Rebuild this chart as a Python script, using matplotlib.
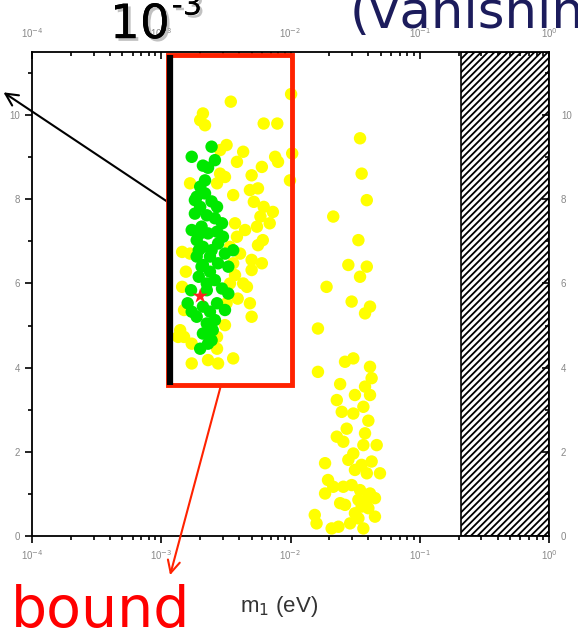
import matplotlib.pyplot as plt
import numpy as np
from matplotlib.patches import Rectangle
import matplotlib.patheffects as pe

# lightest neutrino mass m1 (in units of 1e-3 eV) and vertical quantity
green_m1 = [2.45, 1.72, 2.1, 2.6, 2.3, 2.0, 1.88, 2.18, 2.45, 2.0, 2.7, 1.82, 2.25, 2.6,
            2.95, 1.72, 2.05, 2.3, 2.7, 3.0, 1.88, 2.1, 2.45, 2.75, 3.11, 3.6, 3.3, 1.88,
            2.1, 2.38, 2.75, 1.95, 2.25, 2.6, 2.95, 1.7, 1.6, 2.1, 2.38, 2.7, 3.3, 3.11,
            1.88, 2.25, 2.6, 1.72, 2.1, 2.45, 2.0, 2.3, 2.5, 2.0, 1.95, 2.05, 2.38, 2.25,
            1.82, 2.18]
green_y = [9.25, 9.01, 8.8, 8.93, 8.75, 8.3, 8.06, 8.14, 7.95, 7.82, 7.82, 7.66, 7.62, 7.55,
           7.43, 7.27, 7.35, 7.19, 7.23, 7.11, 7.03, 6.87, 6.79, 6.95, 6.71, 6.79, 6.4, 6.64,
           6.44, 6.28, 6.48, 6.16, 6.0, 6.08, 5.88, 5.84, 5.53, 5.45, 5.33, 5.53, 5.76, 5.37,
           5.21, 5.05, 5.13, 5.33, 4.81, 4.65, 4.45, 4.57, 4.89, 7.19, 6.79, 6.4, 6.64, 5.84,
           7.98, 8.45]

yellow_m1 = [3.45, 2.1, 2.0, 2.18, 10.1, 6.2, 7.9, 3.2, 2.85, 4.3, 3.85, 7.6, 8.0, 10.3,
             6.0, 5.0, 9.9, 3.11, 2.7, 2.85, 1.67, 4.85, 5.6, 3.6, 5.2, 6.2, 7.3, 6.9,
             5.85, 5.5, 3.72, 4.45, 3.85, 6.1, 5.6, 3.4, 4.07, 1.45, 1.67, 5.0, 6.0, 5.0,
             3.6, 1.55, 3.72, 4.3, 4.6, 1.45, 3.9, 4.85, 1.5, 5.0, 1.4, 1.35, 3.11, 1.72,
             2.7, 1.72, 2.3, 2.75, 3.6, 2.7, 3.4, 3.2, 1.5,
             # normal-ordering branch around 2-5e-2 eV
             34.5, 35.5, 38.9, 21.4, 33.5, 28.0, 38.9, 34.5, 19.0, 29.7, 41.2, 37.7, 16.3,
             26.4, 30.6, 41.2, 16.3, 42.4, 24.2, 37.7, 41.2, 31.5, 22.8, 36.6, 24.9, 30.6,
             40.0, 27.2, 22.8, 25.6, 37.7, 36.6, 46.4, 30.6, 28.0, 18.5, 42.4, 35.5, 49.2,
             38.9, 19.5, 21.4, 18.5, 25.6, 29.7, 34.5, 41.2, 45.0, 24.2, 26.4, 33.5, 40.0,
             15.4, 15.9, 20.8, 23.5, 28.9, 33.5, 36.6, 45.0, 35.5, 31.5, 38.9, 31.5]
yellow_y = [10.32, 10.04, 9.88, 9.76, 10.5, 9.8, 9.8, 9.29, 9.17, 9.13, 8.89, 9.01, 8.89, 9.09,
            8.77, 8.57, 8.45, 8.53, 8.38, 8.61, 8.38, 8.22, 8.26, 8.1, 7.94, 7.82, 7.7, 7.43,
            7.59, 7.35, 7.43, 7.27, 7.11, 7.03, 6.91, 6.87, 6.71, 6.75, 6.71, 6.56, 6.48, 6.32,
            6.48, 6.28, 6.2, 6.0, 5.92, 5.92, 5.64, 5.53, 5.37, 5.21, 4.89, 4.73, 5.01, 4.57,
            4.45, 4.1, 4.18, 4.1, 4.22, 4.73, 6.0, 5.53, 4.73,
            9.45, 8.61, 7.98, 7.59, 7.03, 6.44, 6.40, 6.16, 5.92, 5.57, 5.45, 5.29, 4.93,
            4.14, 4.22, 4.02, 3.90, 3.75, 3.61, 3.55, 3.35, 3.35, 3.23, 3.07, 2.95, 2.91,
            2.74, 2.55, 2.36, 2.24, 2.44, 2.16, 2.16, 1.96, 1.81, 1.73, 1.77, 1.69, 1.49,
            1.49, 1.33, 1.17, 1.01, 1.17, 1.21, 1.09, 1.01, 0.90, 0.78, 0.74, 0.86, 0.66,
            0.50, 0.30, 0.18, 0.22, 0.30, 0.42, 0.18, 0.46, 0.70, 1.57, 0.86, 0.54]

best_m1 = [2.0]
best_y = [5.7]

m1_excluded = 0.21      # start of hatched (excluded) region, eV
box_m1 = [1.13e-3, 1.03e-2]
box_y = [3.59, 11.43]
bar_m1 = 1.17e-3

plt.rcParams['hatch.linewidth'] = 1.3
plt.rcParams['font.family'] = ['Liberation Sans', 'DejaVu Sans']

fig = plt.figure(figsize=(5.78, 6.35), dpi=100)
ax = fig.add_axes([0.0554, 0.1559, 0.8945, 0.7622])

ax.scatter(np.array(yellow_m1) * 1e-3, yellow_y, s=80, c='#ffff00', edgecolors='none', zorder=2)
ax.scatter(np.array(green_m1) * 1e-3, green_y, s=80, c='#00e800', edgecolors='none', zorder=3)
ax.scatter(np.array(best_m1) * 1e-3, best_y, s=130, marker='*', c='#ff2020', edgecolors='none', zorder=4)

ax.add_patch(Rectangle((m1_excluded, 0), 1 - m1_excluded, 11.5, facecolor='white',
                       edgecolor='black', hatch='/////', lw=1.2, zorder=1))

ax.set_xscale('log')
ax.set_xlim(1e-4, 1)
ax.set_ylim(0, 11.5)
ax.set_xticks([1e-4, 1e-3, 1e-2, 1e-1, 1])
ax.set_xticklabels([r'10$^{-4}$', r'10$^{-3}$', r'10$^{-2}$', r'10$^{-1}$', r'10$^{0}$'])
ax.set_yticks([0, 2, 4, 6, 8, 10])
ax.set_yticks([1, 3, 5, 7, 9, 11], minor=True)
ax.tick_params(which='both', top=True, right=True, labeltop=True, labelright=True,
               labelsize=7, labelcolor='#888888', width=1.2, direction='out')
ax.tick_params(axis='both', which='major', length=5)
ax.tick_params(axis='both', which='minor', length=3)
# top and right ticks point inwards
for t in ax.xaxis.get_major_ticks() + ax.xaxis.get_minor_ticks():
    t.tick2line.set_marker(3)
for t in ax.yaxis.get_major_ticks() + ax.yaxis.get_minor_ticks():
    t.tick2line.set_marker(0)
for sp in ax.spines.values():
    sp.set_linewidth(1.3)
fig.text(0.415, 0.037, r'm$_1$ (eV)', fontsize=16, color='#333333', ha='left', va='baseline')

# highlighted band and the lower bound bar
ax.add_patch(Rectangle((box_m1[0], box_y[0]), box_m1[1] - box_m1[0], box_y[1] - box_y[0],
                       fill=False, edgecolor='#ff2200', lw=3.5, zorder=5, clip_on=False))
ax.plot([bar_m1, bar_m1], box_y, color='black', lw=4.5, zorder=6, solid_capstyle='butt',
        clip_on=False)

ax.annotate('', xy=(0.002, 0.857), xycoords='figure fraction',
            xytext=(bar_m1, 7.9), textcoords='data',
            arrowprops=dict(arrowstyle='->', color='black', lw=1.5, mutation_scale=22),
            annotation_clip=False)
ax.annotate('', xy=(0.293, 0.09), xycoords='figure fraction',
            xytext=(2.9e-3, box_y[0]), textcoords='data',
            arrowprops=dict(arrowstyle='->', color='#ff2200', lw=1.5, mutation_scale=22),
            annotation_clip=False)

shadow = [pe.withSimplePatchShadow(offset=(2, -2), shadow_rgbFace='#999999', alpha=0.6), pe.Normal()]
fig.text(0.19, 0.94, '10', fontsize=34, color='black', ha='left', va='baseline',
         path_effects=shadow, family='DejaVu Sans')
fig.text(0.297, 0.977, '-3', fontsize=22, color='black', ha='left', va='baseline',
         path_effects=shadow, family='DejaVu Sans')
fig.text(0.605, 0.956, '(vanishin', fontsize=37, color='#1c1c5c', ha='left', va='baseline',
         family='DejaVu Sans')
fig.text(0.018, 0.012, 'bound', fontsize=41, color='#ff0000', ha='left', va='baseline',
         family='DejaVu Sans')

fig.savefig('out.png', dpi=100)
